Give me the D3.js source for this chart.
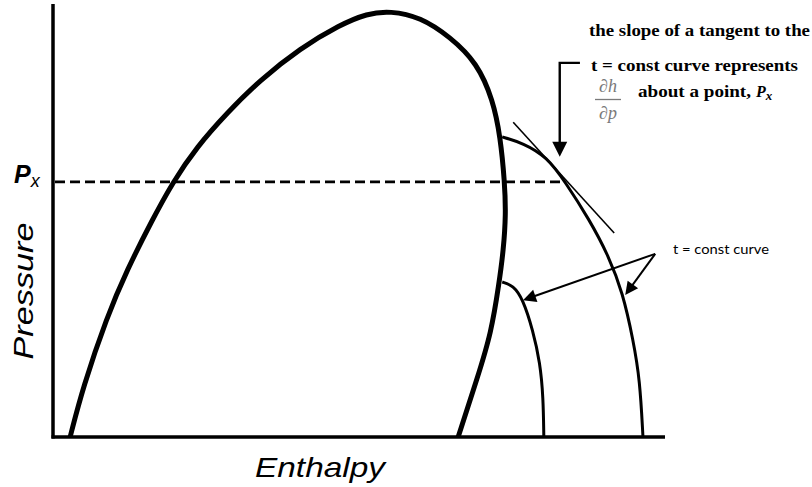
<!DOCTYPE html>
<html lang="en">
<head>
<meta charset="UTF-8">
<title>Pressure-Enthalpy</title>
<script src="https://cdn.jsdelivr.net/npm/d3@7/dist/d3.min.js"></script>
<style>
  body, html { margin: 0; background: #fff; }
  svg { display: block; }
</style>
</head>
<body>
<svg width="812" height="487"></svg>
<script>
// saturation dome [enthalpy, pressure] in arbitrary units (0-100)
const dome = [[2.8,0],[4.9,11.5],[8.8,27.7],[12.1,38.6],[16.2,50.1],[19.6,58.9],[23.5,67.0],[28.4,74.8],
  [33.8,82.4],[40.4,89.8],[46.9,95.2],[51.3,97.8],[55.1,98.4],[60.0,97.0],[64.9,92.4],[69.3,86.4],
  [71.9,77.8],[73.1,69.3],[73.8,58.9],[74.0,51.3],[73.6,43.2],[72.9,35.6],[71.6,24.0],[69.4,13.9],[66.2,0]];
// two t = const curves
const isoHigh = [[73.4,69.3],[76.8,67.9],[80.7,64.7],[83.7,58.9],[87.6,50.3],[90.8,41.8],[93.1,33.3],
  [94.8,22.4],[95.9,13.2],[96.4,0]];
const isoLow = [[73.4,35.8],[75.2,35.0],[76.8,31.8],[78.4,24.7],[79.6,17.1],[80.1,9.2],[80.2,0]];
const tangent = [[75.2,72.7],[91.7,47.1]];
const px = 58.9, pxH = 83.7;
const downArrow = [[86.1,86.4],[82.8,86.4],[82.8,64.7]];
const labelFrom = [98.4,42.3];
const labelTargets = [[76.8,31.6],[93.5,32.8]];

const svg = d3.select('svg');
const x = d3.scaleLinear().domain([0,100]).range([53,665]);
const y = d3.scaleLinear().domain([0,100]).range([437,4]);
const line = d3.line().x(d=>x(d[0])).y(d=>y(d[1]));
const smooth = d3.line().x(d=>x(d[0])).y(d=>y(d[1])).curve(d3.curveBasis);

// axes
svg.append('line').attr('x1',x(0)).attr('x2',x(0)).attr('y1',y(0)+1.5).attr('y2',y(100))
  .attr('stroke','#000').attr('stroke-width',3.5);
svg.append('line').attr('x1',x(0)-1.5).attr('x2',x(100)).attr('y1',y(0)).attr('y2',y(0))
  .attr('stroke','#000').attr('stroke-width',3.5);

// Px dashed line
svg.append('line').attr('x1',x(0)+2).attr('x2',x(pxH)).attr('y1',y(px)).attr('y2',y(px))
  .attr('stroke','#000').attr('stroke-width',2.8).attr('stroke-dasharray','10,5');

svg.append('path').attr('d',smooth(dome)).attr('fill','none').attr('stroke','#000').attr('stroke-width',5);
svg.append('path').attr('d',smooth(isoHigh)).attr('fill','none').attr('stroke','#000').attr('stroke-width',3);
svg.append('path').attr('d',smooth(isoLow)).attr('fill','none').attr('stroke','#000').attr('stroke-width',3);
svg.append('path').attr('d',line(tangent)).attr('fill','none').attr('stroke','#000').attr('stroke-width',1.6);

function arrow(pts, len, half, w){
  const n = pts.length;
  const [x2,y2] = [x(pts[n-1][0]), y(pts[n-1][1])];
  const [x1,y1] = [x(pts[n-2][0]), y(pts[n-2][1])];
  const d = Math.hypot(x2-x1,y2-y1), ux=(x2-x1)/d, uy=(y2-y1)/d;
  const bx = x2-ux*len, by = y2-uy*len;
  const shaft = pts.slice(0,-1).map(p=>[x(p[0]),y(p[1])]).concat([[bx+ux*2,by+uy*2]]);
  svg.append('path').attr('d',d3.line()(shaft)).attr('fill','none').attr('stroke','#000').attr('stroke-width',w);
  svg.append('path').attr('d',d3.line()([[x2,y2],[bx-uy*half,by+ux*half],[bx+uy*half,by-ux*half]])+'Z')
    .attr('fill','#000');
}
arrow(downArrow, 15, 7.5, 2.4);
labelTargets.forEach(t=>arrow([labelFrom,t], 13, 6.5, 2));

// annotations
const serif = '"Liberation Serif", "Times New Roman", serif';
svg.append('text').attr('x',589).attr('y',36).attr('textLength',221).attr('lengthAdjust','spacingAndGlyphs')
  .style('font-family',serif).style('font-weight','bold').style('font-size','16px')
  .text('the slope of a tangent to the');
svg.append('text').attr('x',591).attr('y',71).attr('textLength',207).attr('lengthAdjust','spacingAndGlyphs')
  .style('font-family',serif).style('font-weight','bold').style('font-size','16px')
  .text('t = const curve represents');
const frac = svg.append('g').style('font-family',serif).style('font-style','italic')
  .style('font-size','18px').attr('fill','#7a7a7a');
frac.append('text').attr('x',608).attr('y',92).attr('text-anchor','middle').text('\u2202h');
frac.append('text').attr('x',608).attr('y',119).attr('text-anchor','middle').text('\u2202p');
svg.append('line').attr('x1',595).attr('x2',621).attr('y1',99.5).attr('y2',99.5).attr('stroke','#7a7a7a').attr('stroke-width',1.3);
svg.append('text').attr('x',638).attr('y',97).attr('textLength',113).attr('lengthAdjust','spacingAndGlyphs')
  .style('font-family',serif).style('font-weight','bold').style('font-size','16px').text('about a point,');
const pp = svg.append('text').attr('x',756).attr('y',97)
  .style('font-family',serif).style('font-weight','bold').style('font-style','italic').style('font-size','16px');
pp.append('tspan').text('P');
pp.append('tspan').attr('dy',3).style('font-size','13px').text('x');

svg.append('text').attr('x',673).attr('y',254).attr('textLength',96).attr('lengthAdjust','spacingAndGlyphs')
  .style('font-family','Lato, "Open Sans", sans-serif').style('font-size','13px').text('t = const curve');

const sans = '"Liberation Sans", Arial, sans-serif';
const pl = svg.append('text').attr('x',14).attr('y',183)
  .style('font-family',sans).style('font-style','italic').style('font-size','25px');
pl.append('tspan').style('font-weight','bold').text('P');
pl.append('tspan').attr('dy',4).style('font-size','18px').text('x');

svg.append('text').attr('x',320).attr('y',477).attr('text-anchor','middle')
  .attr('textLength',130).attr('lengthAdjust','spacingAndGlyphs')
  .style('font-family',sans).style('font-style','italic').style('font-size','28px').text('Enthalpy');
svg.append('text').attr('transform','translate(33,291) rotate(-90)').attr('text-anchor','middle')
  .attr('textLength',137).attr('lengthAdjust','spacingAndGlyphs')
  .style('font-family',sans).style('font-style','italic').style('font-size','27px').text('Pressure');
</script>
</body>
</html>
